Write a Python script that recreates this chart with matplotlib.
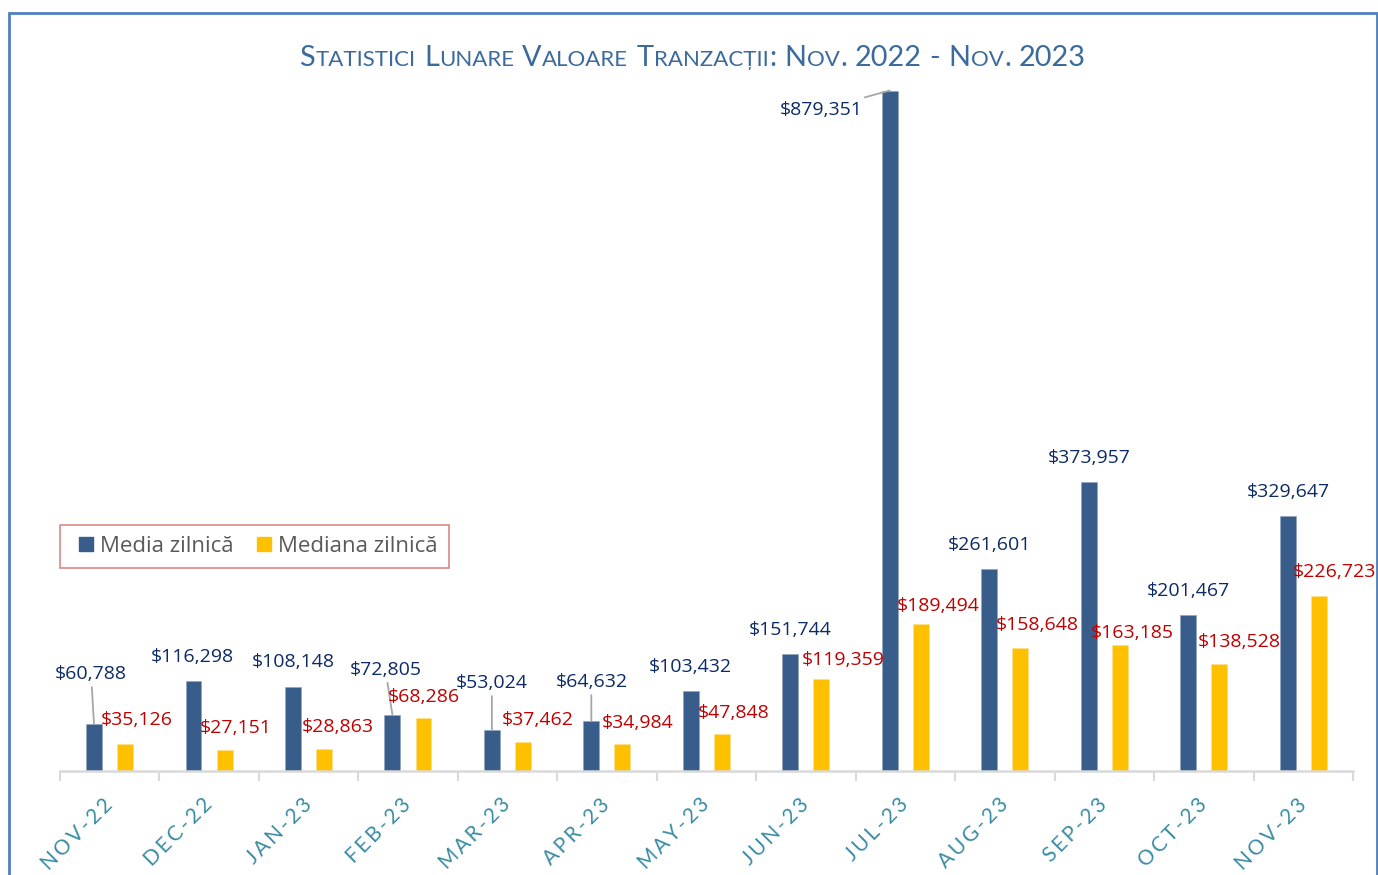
import matplotlib
matplotlib.use("Agg")
import matplotlib.pyplot as plt
import numpy as np
from matplotlib.patches import Rectangle
from matplotlib.lines import Line2D

months = ["NOV-22", "DEC-22", "JAN-23", "FEB-23", "MAR-23", "APR-23", "MAY-23",
          "JUN-23", "JUL-23", "AUG-23", "SEP-23", "OCT-23", "NOV-23"]
media = [60788, 116298, 108148, 72805, 53024, 64632, 103432,
         151744, 879351, 261601, 373957, 201467, 329647]
mediana = [35126, 27151, 28863, 68286, 37462, 34984, 47848,
           119359, 189494, 158648, 163185, 138528, 226723]

title = "Statistici Lunare Valoare Tranzacții: Nov. 2022 - Nov. 2023"
series_names = ["Media zilnică", "Mediana zilnică"]

# label offsets in pixels (dx, dy) from the top of each bar
blue_off = [(-3, 50), (-1, 24), (0, 25), (-7, 45), (0, 47), (0, 39), (0, 24),
            (0, 24), (-69, -19), (0, 24), (1, 24), (0, 24), (1, 24)]
red_off = [(12, 24), (11, 22), (14, 22), (0, 21), (15, 22), (15, 21), (12, 21),
           (22, 19), (17, 18), (17, 23), (12, 12), (20, 22), (16, 24)]
leader = {0, 3, 4, 5, 8}

blue = "#385d8a"
yellow = "#ffc000"
navy = "#0b2a66"
red = "#c00000"

plt.rcParams["font.family"] = ["Open Sans", "DejaVu Sans"]

fig = plt.figure(figsize=(13.78, 8.75), dpi=100)
ax = fig.add_axes([60 / 1378, 1 - 771 / 875, 1293 / 1378, 681 / 875])

x = np.arange(len(months))
w = 0.16
ax.bar(x - 0.158, media, w, color=blue, edgecolor="#8ea3c0", linewidth=0.4)
ax.bar(x + 0.155, mediana, w, color=yellow, edgecolor="#ffe08a", linewidth=0.4)

ax.set_xlim(-0.5, len(months) - 0.5)
ax.set_ylim(0, 880000)

for i in range(len(months)):
    dx, dy = blue_off[i]
    ap = None
    if i in leader:
        ap = dict(arrowstyle="-", color="#a6a6a6", lw=1.3, shrinkA=1, shrinkB=0)
    ax.annotate(f"${media[i]:,}", xy=(x[i] - 0.158, media[i]), xytext=(dx, dy),
                textcoords="offset pixels", ha="center", va="center",
                fontsize=14, color=navy, arrowprops=ap, annotation_clip=False)
    dx, dy = red_off[i]
    ax.annotate(f"${mediana[i]:,}", xy=(x[i] + 0.155, mediana[i]), xytext=(dx, dy),
                textcoords="offset pixels", ha="center", va="center",
                fontsize=14, color=red, annotation_clip=False)

for s in ["top", "left", "right"]:
    ax.spines[s].set_visible(False)
ax.spines["bottom"].set_color("#d9d9d9")
ax.spines["bottom"].set_linewidth(1.8)
ax.set_yticks([])

ax.set_xticks(x)
ax.set_xticks(np.arange(-0.5, len(months), 1), minor=True)
ax.tick_params(axis="x", which="major", length=0, pad=22)
ax.tick_params(axis="x", which="minor", length=7, width=1.5, color="#d9d9d9")
ax.set_xticklabels(["\u2009".join(m) for m in months], rotation=45, ha="right",
                   rotation_mode="anchor", va="center", fontsize=15,
                   color="#3a8ca3", family=["Lato", "DejaVu Sans"],
                   fontweight="normal")

handles = [Line2D([], [], linestyle="none", marker="s", markersize=9.5,
                  markerfacecolor=c, markeredgecolor=c) for c in (blue, yellow)]
leg = ax.legend(handles, series_names, loc="lower left",
                bbox_to_anchor=(0.0, 0.298), fontsize=16, frameon=True,
                fancybox=False, handlelength=1.3, handletextpad=0.0,
                columnspacing=0.7, ncol=2, borderpad=0.5, borderaxespad=0)
leg.get_frame().set_edgecolor("#d46a6a")
leg.get_frame().set_linewidth(1.2)
for t in leg.get_texts():
    t.set_color("#595959")

# small caps title
renderer = fig.canvas.get_renderer()
runs = []
for word_i, word in enumerate(title.split(" ")):
    if word_i > 0:
        runs.append((" ", True))
    cur, cur_big = "", None
    for ch in word:
        big = not (ch.isalpha() and ch.islower())
        if cur_big is None or big == cur_big:
            cur += ch.upper()
            cur_big = big
        else:
            runs.append((cur, cur_big))
            cur, cur_big = ch.upper(), big
    runs.append((cur, cur_big))

big_size, small_size = 20.8, 16
tfam = ["Lato", "DejaVu Sans"]
tcolor = "#3b6a9c"
probe = fig.text(0, 0, "AA", fontsize=big_size, family=tfam)
wAA = probe.get_window_extent(renderer).width
probe.set_text("A A")
space_w = probe.get_window_extent(renderer).width - wAA
probe.remove()

items = []
xpos = 0.0
for s, big in runs:
    if s == " ":
        xpos += space_w
        continue
    t = fig.text(0, 1 - 66 / 875, s, fontsize=big_size if big else small_size,
                 family=tfam, color=tcolor, va="baseline", ha="left")
    wdt = t.get_window_extent(renderer).width
    items.append((t, xpos))
    xpos += wdt + 0.5
start = 693 - xpos / 2
for t, off in items:
    t.set_x((start + off) / 1378)

# outer frame
fig.patches.append(Rectangle((9 / 1378, -0.05), 1368 / 1378, 1.05 - 13 / 875,
                             transform=fig.transFigure, fill=False,
                             edgecolor="#4f81bd", linewidth=2))

fig.savefig("out.png", dpi=100)
